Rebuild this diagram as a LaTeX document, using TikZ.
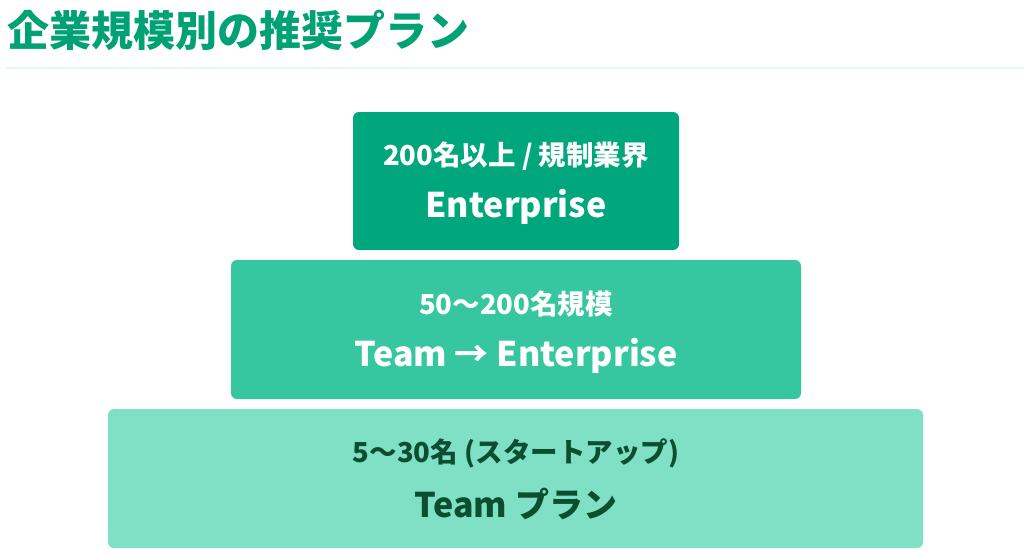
\documentclass[tikz,border=0pt]{standalone}
\usepackage{fontspec}
\setmainfont{Noto Sans CJK JP}
\definecolor{titlegreen}{RGB}{0,161,116}
\definecolor{topfill}{RGB}{0,166,124}
\definecolor{midfill}{RGB}{54,198,160}
\definecolor{basefill}{RGB}{128,224,198}
\definecolor{basetext}{RGB}{12,78,48}
\definecolor{rulegreen}{RGB}{230,246,241}
\begin{document}
\begin{tikzpicture}[x=1pt, y=-1pt,
  tier/.style={rounded corners=6pt},
  small/.style={font=\fontsize{27.5}{32}\selectfont\bfseries},
  big/.style={font=\fontsize{34}{40}\selectfont\bfseries}]
\useasboundingbox (0,0) rectangle (1024,552);
\node[anchor=west, text=titlegreen, font=\fontsize{42}{48}\selectfont\bfseries, inner sep=0pt] (title) at (7,30) {企業規模別の推奨プラン};
\draw[rulegreen, line width=2pt] (6,68) -- (1024,68);
% tiers
\fill[tier, topfill] (353,112) rectangle (679,250);
\fill[tier, midfill] (231,260) rectangle (801,399);
\fill[tier, basefill] (108,409) rectangle (923,548);
\node[small, text=white] (topsize) at (516,156) {200名以上 / 規制業界};
\node[big, text=white] (topplan) at (516,207) {Enterprise};
\node[small, text=white] (midsize) at (516,304) {50～200名規模};
\node[big, text=white] (midplan) at (516,356) {Team → Enterprise};
\node[small, text=basetext] (basesize) at (516,453) {5～30名 (スタートアップ)};
\node[big, text=basetext] (baseplan) at (516,504) {Team プラン};
\end{tikzpicture}
\end{document}
